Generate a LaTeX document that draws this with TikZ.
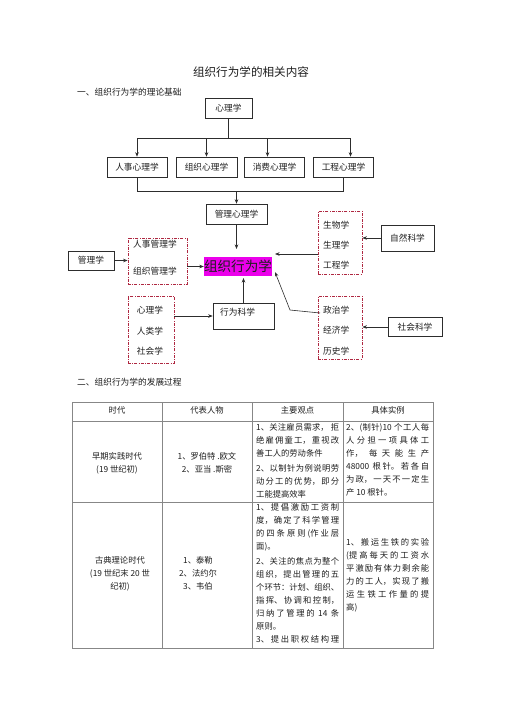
\documentclass[tikz,border=0pt]{standalone}
\usepackage{fontspec}
\setmainfont{Noto Sans CJK SC}
\usetikzlibrary{arrows.meta}
\XeTeXlinebreaklocale "zh"
\XeTeXlinebreakskip=0pt plus 1pt minus 0.3pt
\setlength\parindent{0pt}
\definecolor{boxc}{RGB}{45,45,45}
\definecolor{grpc}{RGB}{175,40,65}
\definecolor{tblc}{RGB}{135,135,135}
\definecolor{mag}{RGB}{235,0,235}
\definecolor{txtc}{RGB}{30,30,30}
\tikzset{
  box/.style={draw=boxc, line width=0.6pt, inner sep=0pt, text=txtc, font=\fontsize{8.7}{10}\selectfont},
  grp/.style={draw=grpc, line width=0.8pt, dash pattern=on 3pt off 1.3pt on 0.8pt off 1.3pt, inner sep=0pt},
  lbl/.style={inner sep=0pt, text=txtc, font=\fontsize{8.7}{10}\selectfont},
  ln/.style={draw=boxc, line width=0.6pt},
  arr/.style={draw=boxc, line width=0.6pt, -{Stealth[length=4.5pt,width=3.5pt]}},
  tline/.style={draw=tblc, line width=0.6pt},
  tt/.style={inner sep=0pt, text=txtc, font=\fontsize{8.3}{13}\selectfont},
  tj/.style={tt, anchor=north west, text width=83pt, align=justify},
  tc/.style={tt, anchor=north, align=center}
}
\begin{document}
\begin{tikzpicture}[x=1pt,y=-1pt]
\useasboundingbox[fill=white] (0,0) rectangle (504,713);

% titles
\node[inner sep=0pt, text=txtc, font=\fontsize{11.6}{14}\selectfont] (title) at (251,72) {组织行为学的相关内容};
\node[lbl, anchor=west] (sec1) at (77,92) {一、组织行为学的理论基础};
\node[lbl, anchor=west] (sec2) at (77,382) {二、组织行为学的发展过程};

% top tree
\node[box, minimum width=47pt, minimum height=20pt] (xl) at (228.5,108) {心理学};
\node[box, minimum width=60pt, minimum height=20pt] (rs) at (137,167) {人事心理学};
\node[box, minimum width=61pt, minimum height=20pt] (zz) at (206.5,167) {组织心理学};
\node[box, minimum width=60pt, minimum height=20pt] (xf) at (274.5,167) {消费心理学};
\node[box, minimum width=60pt, minimum height=20pt] (gc) at (343.5,167) {工程心理学};
\node[box, minimum width=61pt, minimum height=20pt] (glxl) at (236.5,214) {管理心理学};

\coordinate (b1) at (0,138);
\coordinate (b2) at (0,191);
\coordinate (a3) at ([xshift=-7pt]xf.north);
\coordinate (a4) at ([xshift=7pt]gc.north);
\draw[ln] (xl.south) -- (xl.south |- b1);
\draw[ln] (rs.north |- b1) -- (a4 |- b1);
\draw[arr] (rs.north |- b1) -- (rs.north);
\draw[arr] (zz.north |- b1) -- (zz.north);
\draw[arr] (a3 |- b1) -- (a3);
\draw[arr] (a4 |- b1) -- (a4);
\draw[ln] (rs.south) -- (rs.south |- b2) -- (gc.south |- b2) -- (gc.south);
\draw[arr] (glxl.north |- b2) -- (glxl.north);

% central node
\node[fill=mag, inner sep=0pt, minimum width=68pt, minimum height=19pt, text=txtc, font=\fontsize{13.6}{15}\selectfont] (ob) at (238,266.5) {组织行为学};
\coordinate (obtop) at (236.5,249);
\draw[arr] (glxl.south) -- (obtop);

% left
\node[box, minimum width=46pt, minimum height=19pt] (glx) at (91,260.5) {管理学};
\node[grp, minimum width=59pt, minimum height=46pt] (lg) at (157.5,261) {};
\node[lbl, anchor=west] (lg1) at (133,244) {人事管理学};
\node[lbl, anchor=west] (lg2) at (133,271) {组织管理学};
\draw[arr] (glx.east) -- (glx.east -| lg.west);
\draw[arr] (lg.east |- ob.west) -- (ob.west);

% right top
\node[grp, minimum width=44pt, minimum height=63pt] (ng) at (340,242.5) {};
\node[lbl, anchor=west] (ng1) at (323,225) {生物学};
\node[lbl, anchor=west] (ng2) at (323,245) {生理学};
\node[lbl, anchor=west] (ng3) at (323,265) {工程学};
\node[box, minimum width=53pt, minimum height=26pt] (zr) at (407.5,238) {自然科学};
\draw[arr] (zr.west) -- (zr.west -| ng.east);
\coordinate (obr) at (275,254);
\draw[arr] (ng.west |- obr) -- (obr);

% left bottom
\node[grp, minimum width=46pt, minimum height=67pt] (lb) at (151,329.5) {};
\node[lbl] (lb1) at (150,310) {心理学};
\node[lbl] (lb2) at (150,331) {人类学};
\node[lbl] (lb3) at (150,351) {社会学};
\node[box, minimum width=61pt, minimum height=26pt] (xw) at (243.5,316) {};
\node[lbl, anchor=west] (xwt) at (220,312) {行为科学};
\draw[arr] (lb.east |- xw.west) -- (xw.west);
\coordinate (obb) at (243.5,278);
\draw[arr] (xw.north) -- (obb);

% right bottom
\node[grp, minimum width=44pt, minimum height=63pt] (rb) at (340,327.5) {};
\node[lbl, anchor=west] (rb1) at (323,310) {政治学};
\node[lbl, anchor=west] (rb2) at (323,330) {经济学};
\node[lbl, anchor=west] (rb3) at (323,351) {历史学};
\node[box, minimum width=54pt, minimum height=19pt] (sh) at (415,327) {社会科学};
\draw[arr] (sh.west) -- (sh.west -| rb.east);
\coordinate (rbs) at (320,313);
\coordinate (bend) at (290,310);
\coordinate (obt) at (275,272);
\draw[arr] (rbs) -- (bend) -- (obt);

% table
\draw[tline] (72,402) rectangle (433,648);
\draw[tline] (72,421) -- (433,421);
\draw[tline] (72,502) -- (433,502);
\draw[tline] (162,402) -- (162,648);
\draw[tline] (252,402) -- (252,648);
\draw[tline] (343,402) -- (343,648);

\node[tt] (h1) at (117,410) {时代};
\node[tt] (h2) at (207,410) {代表人物};
\node[tt] (h3) at (297.5,410) {主要观点};
\node[tt] (h4) at (388,410) {具体实例};

\node[tc] (r1c1) at (117,452.7) {早期实践时代\\(19 世纪初)};
\node[tc] (r1c2) at (207,452.7) {1、罗伯特 .欧文\\2、亚当 .斯密};
\node[tj] (r1c3) at (256,423.7) {1、关注雇员需求， 拒\linebreak 绝雇佣童工，重视改\linebreak 善工人的劳动条件\par\vskip2pt 2、以制针为例说明劳\linebreak 动分工的优势，即分\linebreak 工能提高效率};
\node[tj] (r1c4) at (346,423.7) {2、(制针)10 个工人每\linebreak 人分担一项具体工\linebreak 作，\ 每天能生产\linebreak 48000 根针。若各自\linebreak 为政，一天不一定生\linebreak 产 10 根针。};

\node[tc] (r2c1) at (120,556.7) {古典理论时代\\(19 世纪末 20 世\\纪初)};
\node[tc] (r2c2) at (198,556.7) {1、泰勒\\2、法约尔\\3、韦伯};
\node[tj] (r2c3) at (256,503.2) {1、提倡激励工资制\linebreak 度，确定了科学管理\linebreak 的四条原则(作业层\linebreak 面)。\par\vskip2pt 2、关注的焦点为整个\linebreak 组织，提出管理的五\linebreak 个环节：计划、组织、\linebreak 指挥、协调和控制，\linebreak 归纳了管理的 14 条\linebreak 原则。\par{\parfillskip=0pt 3、提出职权结构理\par}};
\node[tj] (r2c4) at (346,538.7) {1、搬运生铁的实验\linebreak (提高每天的工资水\linebreak 平激励有体力剩余能\linebreak 力的工人，实现了搬\linebreak 运生铁工作量的提\linebreak 高)};
\end{tikzpicture}
\end{document}
